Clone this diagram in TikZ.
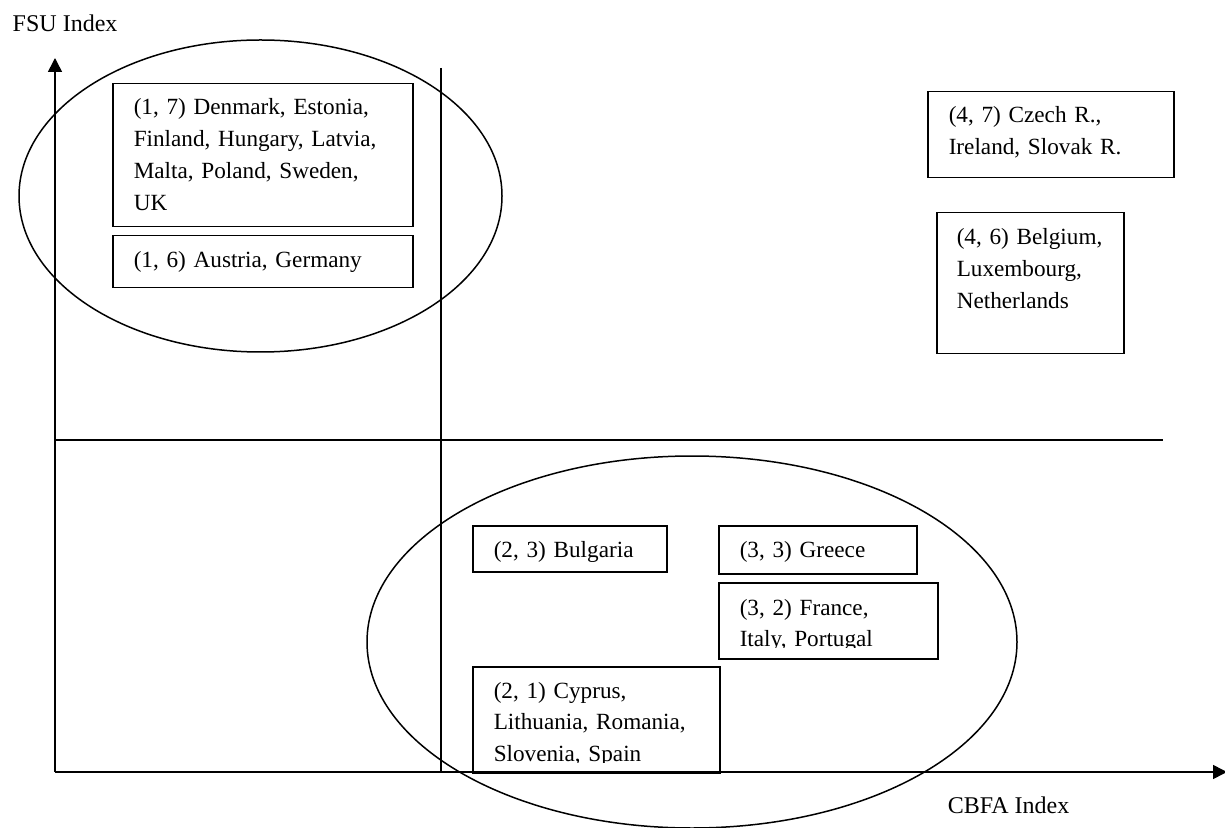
\documentclass[tikz,border=0pt]{standalone}
\usepackage{fontspec}
\setmainfont{Liberation Serif}
\usetikzlibrary{arrows.meta}
\begin{document}
\begin{tikzpicture}[x=0.5pt,y=-0.5pt,line width=0.75pt,
    box/.style={draw,anchor=north west,inner sep=0pt},
    entry/.style={anchor=base west,inner sep=0pt,align=left,text width=#1,
      font=\fontsize{11.6}{15.85}\selectfont},
    axislabel/.style={anchor=base west,inner sep=0pt,font=\fontsize{12}{14}\selectfont}]
    \useasboundingbox (0,0) rectangle (1225,828);
    % axes
    \coordinate (O) at (55,772);
    \coordinate (ytip) at (55,58);
    \coordinate (xtip) at (1227,772);
    \draw[-{Triangle[length=7pt,width=7pt]}] (O) -- (ytip);
    \draw[-{Triangle[length=7pt,width=7pt]}] (O) -- (xtip);
    \node[axislabel] (fsu) at (12,32) {FSU Index};
    \node[axislabel] (cbfa) at (947,813) {CBFA Index};
    % quadrant lines
    \coordinate (vtop) at (441,68);
    \coordinate (vbot) at (441,772);
    \coordinate (hleft) at (55,440);
    \coordinate (hright) at (1163,440);
    \draw (vtop) -- (vbot);
    \draw (hleft) -- (hright);
    % clusters
    \draw (260.5,196) ellipse [x radius=120.75pt, y radius=78pt];
    \draw (692,642) ellipse [x radius=162.5pt, y radius=93pt];
    % upper left
    \node[box,minimum width=150pt,minimum height=71.5pt] (b17) at (112,83) {};
    \node[entry=140pt] (t17) at (133,115) {(1, 7) Denmark, Estonia,\\Finland, Hungary, Latvia,\\Malta, Poland, Sweden,\\UK};
    \node[box,minimum width=150pt,minimum height=26pt] (b16) at (112,235) {};
    \node[entry=140pt] (t16) at (133,268) {(1, 6) Austria, Germany};
    % upper right
    \node[box,minimum width=123pt,minimum height=43pt] (b47) at (927,91) {};
    \node[entry=115pt] (t47) at (948,123) {(4, 7) Czech R.,\\Ireland, Slovak R.};
    \node[box,minimum width=93.5pt,minimum height=70.5pt] (b46) at (936,212) {};
    \node[entry=85pt] (t46) at (956,245) {(4, 6) Belgium,\\Luxembourg,\\Netherlands};
    % lower right
    \node[box,minimum width=97pt,minimum height=23pt] (b23) at (472,525) {};
    \node[entry=90pt] (t23) at (493,557) {(2, 3) Bulgaria};
    \node[box,minimum width=99pt,minimum height=24pt] (b33) at (718,525) {};
    \node[entry=90pt] (t33) at (739,557) {(3, 3) Greece};
    \node[box,minimum width=109.5pt,minimum height=38pt] (b32) at (718,582) {};
    \begin{scope}
      \clip (718,582) rectangle (937,647);
      \node[entry=100pt] (t32) at (739,615) {(3, 2) France,\\Italy, Portugal};
    \end{scope}
    \node[box,minimum width=123.5pt,minimum height=53pt] (b21) at (472,666) {};
    \begin{scope}
      \clip (472,666) rectangle (719,762);
      \node[entry=115pt] (t21) at (493,698) {(2, 1) Cyprus,\\Lithuania, Romania,\\Slovenia, Spain};
    \end{scope}
\end{tikzpicture}
\end{document}
